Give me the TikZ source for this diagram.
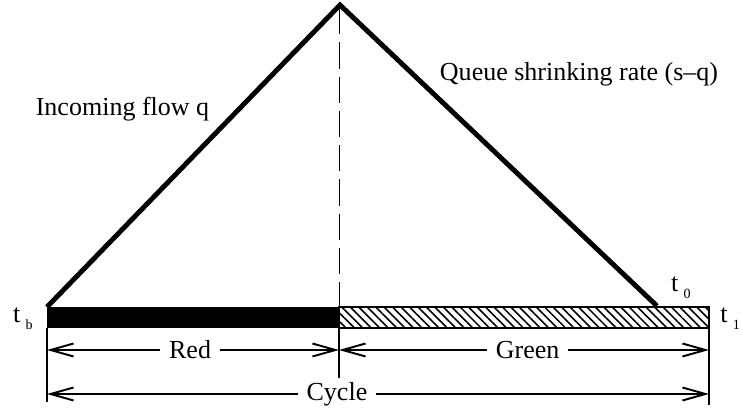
\documentclass[tikz,border=0pt]{standalone}
\usepackage{fontspec}
\setmainfont{Liberation Serif}
\usetikzlibrary{arrows.meta,patterns.meta,positioning,calc}

\newcommand{\tsub}[1]{t\hspace{3pt}\raisebox{-4pt}{\footnotesize #1}}

\begin{document}
\begin{tikzpicture}[
	dim/.style={{Straight Barb[length=4.6mm,width=2.6mm,line width=1.1pt]}-{Straight Barb[length=4.6mm,width=2.6mm,line width=1.1pt]}, line width=1pt},
	rate/.style={line width=2.8pt, line join=miter},
	lbl/.style={font=\fontsize{14.8}{17}\selectfont, inner sep=1pt},
	gap/.style={lbl, fill=white, inner xsep=5pt},
	tick/.style={line width=1pt}
]
	\useasboundingbox (0,0) rectangle (14.86,8.26);

	% time axis
	\coordinate (tb) at (0.94,2.12);
	\coordinate (tbb) at (0.94,1.70);
	\coordinate (mid) at (6.78,2.12);
	\coordinate (midb) at (6.78,1.70);
	\coordinate (te) at (14.18,2.12);
	\coordinate (teb) at (14.18,1.70);
	\coordinate (apex) at (6.80,8.16);
	\coordinate (t0) at (13.14,2.14);

	% red and green phases
	\fill (tbb) rectangle (mid);
	\draw[line width=0.8pt, pattern={Lines[angle=-45, distance=3.4pt, line width=0.9pt]}] (midb) rectangle (te);

	% queue triangle
	\draw[rate] (tb) -- (apex) -- (t0);
	\draw[line width=0.4pt, dash pattern=on 15pt off 4.5pt] (6.78,8.10) -- (mid);

	% ticks
	\draw[tick] (tbb) -- (0.94,0.22);
	\draw[tick] (midb) -- (6.78,0.70);
	\draw[tick] (te) -- (14.18,0.16);

	% dimensions
	\draw[dim] (0.94,1.26) -- (6.78,1.26) node[gap, pos=0.49] (red) {Red};
	\draw[dim] (6.78,1.26) -- (14.18,1.26) node[gap, pos=0.51] (green) {Green};
	\draw[dim] (0.94,0.38) -- (14.18,0.38) node[gap, pos=0.438] (cycle) {Cycle};

	\node[lbl] (inflow) at (2.45,6.08) {Incoming flow q};
	\node[lbl] (shrink) at (11.58,6.78) {Queue shrinking rate (s--q)};

	\node[lbl] (lb) at (0.46,1.88) {\tsub{b}};
	\node[lbl] (l0) at (13.62,2.50) {\tsub{0}};
	\node[lbl, anchor=east] (l1) at (14.84,1.88) {\tsub{1}};
\end{tikzpicture}
\end{document}
